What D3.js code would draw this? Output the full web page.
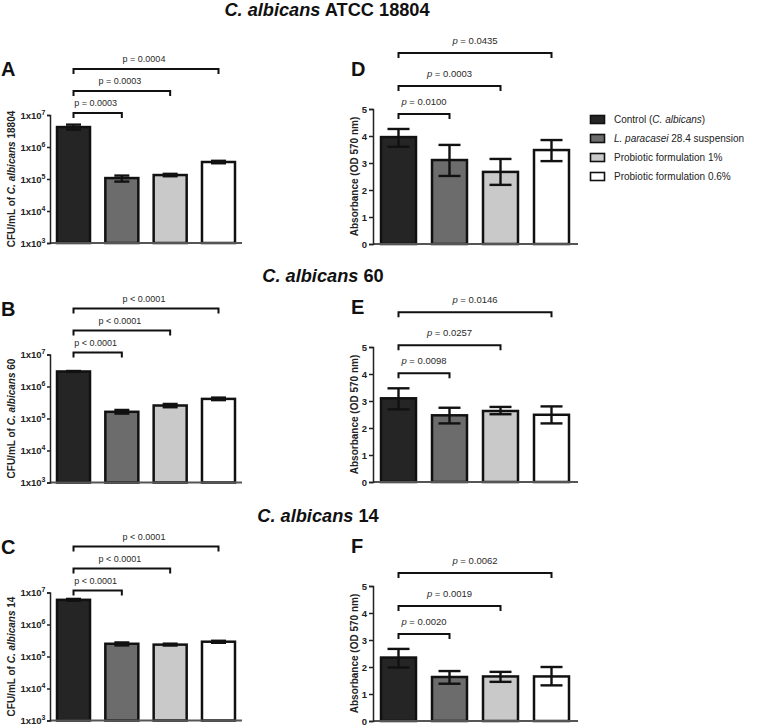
<!DOCTYPE html>
<html><head><meta charset="utf-8">
<script src="https://cdn.jsdelivr.net/npm/d3@7"></script>
<style>
body{margin:0;background:#fff;}
svg{font-family:"Liberation Sans",Arial,sans-serif;}
</style></head>
<body><svg id="c" width="760" height="726"></svg>
<script>
// ---------- DATA ----------
const groups = ["Control (C. albicans)", "L. paracasei 28.4 suspension", "Probiotic formulation 1%", "Probiotic formulation 0.6%"];
const strains = ["ATCC 18804", "60", "14"];
const strainAxisNames = ["18804", "60", "14"];

const cfu18804   = [4.2e6, 1.07e5, 1.33e5, 3.4e5];
const cfu18804Lo = [3.5e6, 8.3e4, 1.22e5, 3.1e5];
const cfu18804Hi = [5.0e6, 1.28e5, 1.45e5, 3.7e5];
const cfu60   = [2.95e6, 1.62e5, 2.55e5, 4.1e5];
const cfu60Lo = [2.85e6, 1.42e5, 2.25e5, 3.75e5];
const cfu60Hi = [3.05e6, 1.85e5, 2.85e5, 4.5e5];
const cfu14   = [5.9e6, 2.5e5, 2.35e5, 2.9e5];
const cfu14Lo = [5.5e6, 2.22e5, 2.2e5, 2.68e5];
const cfu14Hi = [6.3e6, 2.75e5, 2.52e5, 3.1e5];

const abs18804   = [3.96, 3.11, 2.67, 3.48];
const abs18804Lo = [3.60, 2.52, 2.19, 3.07];
const abs18804Hi = [4.26, 3.67, 3.15, 3.85];
const abs60   = [3.10, 2.47, 2.63, 2.49];
const abs60Lo = [2.69, 2.17, 2.51, 2.17];
const abs60Hi = [3.47, 2.75, 2.78, 2.80];
const abs14   = [2.35, 1.63, 1.65, 1.65];
const abs14Lo = [1.98, 1.38, 1.45, 1.32];
const abs14Hi = [2.67, 1.85, 1.82, 2.00];

// comparisons: control vs group 1, 2, 3
const pCfu18804 = ["p = 0.0003", "p = 0.0003", "p = 0.0004"];
const pCfu60    = ["p < 0.0001", "p < 0.0001", "p < 0.0001"];
const pCfu14    = ["p < 0.0001", "p < 0.0001", "p < 0.0001"];
const pAbs18804 = ["p = 0.0100", "p = 0.0003", "p = 0.0435"];
const pAbs60    = ["p = 0.0098", "p = 0.0257", "p = 0.0146"];
const pAbs14    = ["p = 0.0020", "p = 0.0019", "p = 0.0062"];

const logTicks = [1e3, 1e4, 1e5, 1e6, 1e7];
const absTicks = [0, 1, 2, 3, 4, 5];

// ---------- STYLE / LAYOUT ----------
const fills = ["#252525", "#6c6c6c", "#c9c9c9", "#ffffff"];
const svg = d3.select("#c");

const cfuPanels = [
  {letter:"A", strain:strainAxisNames[0], v:cfu18804, lo:cfu18804Lo, hi:cfu18804Hi, p:pCfu18804, top:115, bot:243},
  {letter:"B", strain:strainAxisNames[1], v:cfu60, lo:cfu60Lo, hi:cfu60Hi, p:pCfu60, top:354.5, bot:482.5},
  {letter:"C", strain:strainAxisNames[2], v:cfu14, lo:cfu14Lo, hi:cfu14Hi, p:pCfu14, top:592.5, bot:720.5}
];
const absPanels = [
  {letter:"D", v:abs18804, lo:abs18804Lo, hi:abs18804Hi, p:pAbs18804, top:109, bot:244},
  {letter:"E", v:abs60, lo:abs60Lo, hi:abs60Hi, p:pAbs60, top:347, bot:482},
  {letter:"F", v:abs14, lo:abs14Lo, hi:abs14Hi, p:pAbs14, top:586, bot:721}
];
const titleY = [15.5, 282, 522];
const titleX = [327, 323, 318];

// titles
titleY.forEach((ty, i) => {
  const t = svg.append("text").attr("x", titleX[i]).attr("y", ty)
    .attr("text-anchor", "middle").attr("font-size", 18.2).attr("font-weight", "bold").attr("fill", "#111");
  t.append("tspan").attr("font-style", "italic").text("C. albicans");
  t.append("tspan").text(" " + strains[i]);
});

function drawPText(g, x, y, str, italicP, size) {
  const t = g.append("text").attr("x", x).attr("y", y).attr("text-anchor", "middle")
    .attr("font-size", size).attr("fill", "#2a2a2a");
  if (italicP) {
    t.append("tspan").attr("font-style", "italic").text(str.slice(0, 1));
    t.append("tspan").text(str.slice(1));
  } else t.text(str);
}

function drawBars(g, x, y, v, lo, hi, capW, base) {
  g.selectAll("rect.bar").data(v).join("rect").attr("class", "bar")
    .attr("x", (d, i) => x(i)).attr("width", x.bandwidth())
    .attr("y", d => y(d)).attr("height", d => base - y(d))
    .attr("fill", (d, i) => fills[i]).attr("stroke", "#111").attr("stroke-width", 2.5);
  v.forEach((d, i) => {
    const cx = x(i) + x.bandwidth() / 2;
    const e = g.append("g").attr("stroke", "#111").attr("stroke-width", 2.4);
    e.append("line").attr("x1", cx).attr("x2", cx).attr("y1", y(hi[i])).attr("y2", y(lo[i]));
    e.append("line").attr("x1", cx - capW/2).attr("x2", cx + capW/2).attr("y1", y(hi[i])).attr("y2", y(hi[i]));
    e.append("line").attr("x1", cx - capW/2).attr("x2", cx + capW/2).attr("y1", y(lo[i])).attr("y2", y(lo[i]));
  });
}

function drawBracket(g, x, i, j, by) {
  const x1 = x(i) + x.bandwidth()/2, x2 = x(j) + x.bandwidth()/2;
  g.append("path").attr("d", `M${x1},${by+5}V${by}H${x2}V${by+5}`)
    .attr("fill", "none").attr("stroke", "#111").attr("stroke-width", 2);
  return (x1 + x2) / 2;
}

// ----- left (CFU, log scale) panels -----
cfuPanels.forEach(P => {
  const g = svg.append("g");
  const x = d3.scaleBand().domain(d3.range(4)).range([50, 242]).paddingInner(0.317).paddingOuter(0.145);
  const y = d3.scaleLog().domain([1e3, 1e7]).range([P.bot, P.top]);
  drawBars(g, x, y, P.v, P.lo, P.hi, 15, P.bot);
  g.append("line").attr("x1", 50).attr("x2", 242).attr("y1", P.bot).attr("y2", P.bot)
    .attr("stroke", "#555").attr("stroke-width", 2);
  const ax = g.append("g").attr("transform", "translate(50,0)")
    .call(d3.axisLeft(y).tickValues(logTicks).tickSize(3).tickFormat(""));
  ax.select(".domain").attr("stroke", "#222").attr("stroke-width", 1.5);
  ax.selectAll(".tick line").attr("stroke", "#222").attr("stroke-width", 1.5);
  logTicks.forEach(tv => {
    const t = g.append("text").attr("x", 45.5).attr("y", y(tv) + 3.5).attr("text-anchor", "end")
      .attr("font-size", 9.5).attr("font-weight", "bold").attr("fill", "#222");
    t.append("tspan").text("1x10");
    t.append("tspan").attr("font-size", 7).attr("dy", -4).text(Math.round(Math.log10(tv)));
  });
  const yl = g.append("text").attr("transform", `translate(11,${(P.top + P.bot)/2}) rotate(-90)`)
    .attr("text-anchor", "middle").attr("dominant-baseline", "central")
    .attr("font-size", 10).attr("font-weight", "bold").attr("fill", "#222");
  yl.append("tspan").text("CFU/mL of ");
  yl.append("tspan").attr("font-style", "italic").text("C. albicans");
  yl.append("tspan").text(" " + P.strain);
  g.append("text").attr("x", 1).attr("y", P.top - 39).attr("font-size", 20).attr("font-weight", "bold")
    .attr("fill", "#111").text(P.letter);
  P.p.forEach((s, k) => {
    const by = P.top - 2 - 22 * k;
    const cx = drawBracket(g, x, 0, k + 1, by);
    drawPText(g, cx - 2, by - 7, s, false, 9);
  });
});

// ----- right (absorbance) panels -----
absPanels.forEach(P => {
  const g = svg.append("g");
  const x = d3.scaleBand().domain(d3.range(4)).range([373, 577]).paddingInner(0.314).paddingOuter(0.157);
  const y = d3.scaleLinear().domain([0, 5]).range([P.bot, P.top]);
  drawBars(g, x, y, P.v, P.lo, P.hi, 22, P.bot);
  g.append("line").attr("x1", 373).attr("x2", 578).attr("y1", P.bot).attr("y2", P.bot)
    .attr("stroke", "#555").attr("stroke-width", 2);
  const ax = g.append("g").attr("transform", "translate(373,0)")
    .call(d3.axisLeft(y).tickValues(absTicks).tickSize(4).tickPadding(2).tickFormat(d3.format("d")));
  ax.select(".domain").attr("stroke", "#222").attr("stroke-width", 1.5);
  ax.selectAll(".tick line").attr("stroke", "#222").attr("stroke-width", 1.5);
  ax.selectAll(".tick text").attr("font-size", 9.5).attr("font-weight", "bold").attr("fill", "#222")
    .attr("font-family", "Liberation Sans, Arial, sans-serif");
  g.append("text").attr("transform", `translate(354,${(P.top + P.bot)/2}) rotate(-90)`)
    .attr("text-anchor", "middle").attr("dominant-baseline", "central")
    .attr("font-size", 10).attr("font-weight", "bold").attr("fill", "#222")
    .text("Absorbance (OD 570 nm)");
  g.append("text").attr("x", 351).attr("y", P.top - 33).attr("font-size", 20).attr("font-weight", "bold")
    .attr("fill", "#111").text(P.letter);
  let by = y(Math.max(P.hi[0], P.hi[1])) - 15;
  const gaps = [0, 28, 33];
  P.p.forEach((s, k) => {
    by -= gaps[k];
    const cx = drawBracket(g, x, 0, k + 1, by);
    drawPText(g, cx, by - 9, s, true, 9.5);
  });
});

// ----- legend -----
const leg = svg.append("g");
groups.forEach((name, i) => {
  const ly = 119.5 + 19 * i;
  leg.append("rect").attr("x", 590.5).attr("y", ly - 4).attr("width", 14).attr("height", 8)
    .attr("fill", fills[i]).attr("stroke", "#111").attr("stroke-width", 1.6);
  const t = leg.append("text").attr("x", 614).attr("y", ly + 3.5).attr("font-size", 10).attr("fill", "#222");
  if (i === 0) {
    t.append("tspan").text("Control (");
    t.append("tspan").attr("font-style", "italic").text("C. albicans");
    t.append("tspan").text(")");
  } else if (i === 1) {
    t.append("tspan").attr("font-style", "italic").text("L. paracasei");
    t.append("tspan").text(" 28.4 suspension");
  } else t.text(name);
});
</script>
</body></html>
